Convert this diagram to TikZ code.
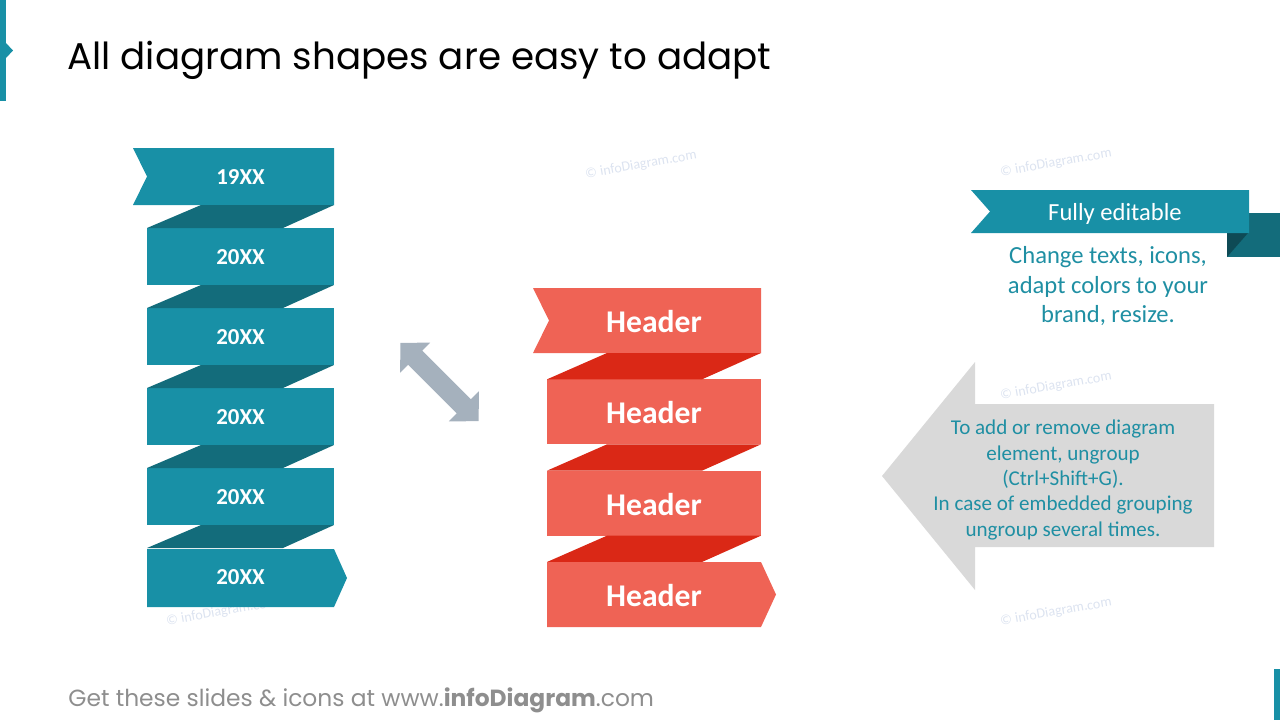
\documentclass[tikz,border=0pt]{standalone}
\usepackage{fontspec}
\setmainfont{Carlito}
\newfontfamily\gothicfont{Poppins}

\definecolor{ribbonteal}{HTML}{1890A6}
\definecolor{tealfold}{HTML}{136C7B}
\definecolor{tealshade}{HTML}{0E4A55}
\definecolor{ribbonred}{HTML}{EF6355}
\definecolor{redfold}{HTML}{DA2816}
\definecolor{arrowgray}{HTML}{A5B1BD}
\definecolor{boxgray}{HTML}{D9D9D9}
\definecolor{noteteal}{HTML}{1F8FA3}
\definecolor{footgray}{HTML}{8E8E8E}
\definecolor{markblue}{HTML}{DCE3F0}

\tikzset{
    yearlbl/.style={text=white, font=\fontsize{13}{15}\selectfont\bfseries},
    headlbl/.style={text=white, font=\fontsize{18}{21}\selectfont\bfseries},
    watermark/.style={text=markblue, rotate=10, font=\fontsize{8}{9}\selectfont},
    notetext/.style={text=noteteal, align=center}
}

\begin{document}
\begin{tikzpicture}[x=0.02cm,y=-0.02cm]
    \useasboundingbox (0,0) rectangle (1280,720);

    % corner marks
    \fill[ribbonteal] (0,0) rectangle (6,101);
    \fill[ribbonteal] (6,43) -- (13,50.5) -- (6,58) -- cycle;
    \fill[ribbonteal] (1274,669) rectangle (1280,720);

    % watermarks
    \foreach \wx/\wy [count=\k] in {641/165, 1056/163, 1056/386, 1056/612, 222/612}
        \node[watermark] (wm\k) at (\wx,\wy) {\textcopyright{} infoDiagram.com};

    \node[anchor=base west, inner sep=0pt, font=\gothicfont\fontsize{21.2}{25}\selectfont] (title) at (67,69)
        {All diagram shapes are easy to adapt};

    % teal ribbon
    \fill[ribbonteal] (133,148) -- (334,148) -- (334,205) -- (133,205) -- (147,176.5) -- cycle;
    \foreach \i in {1,...,4}
        \fill[ribbonteal] (147,148+80*\i) rectangle (334,205+80*\i);
    \fill[ribbonteal] (147,549) -- (334,549) -- (347,578) -- (334,607) -- (147,607) -- cycle;
    \foreach \i in {0,...,4}
        \fill[tealfold] (201,205+80*\i) -- (334,205+80*\i) -- (283,228+80*\i) -- (147,228+80*\i) -- cycle;
    \foreach \lbl [count=\i from 0] in {19XX,20XX,20XX,20XX,20XX,20XX}
        \node[yearlbl] (yr\i) at (240.5,177.5+80*\i) {\lbl};

    % double arrow
    \fill[arrowgray] (400.3,342.8) -- (430.2,342.7) -- (422.3,350.6) -- (470.9,399.2) -- (478.8,391.3)
        -- (478.7,421.2) -- (448.8,421.3) -- (456.7,413.4) -- (408.1,364.8) -- (400.2,372.7) -- cycle;

    % red ribbon
    \fill[ribbonred] (533,288) -- (761,288) -- (761,353) -- (533,353) -- (549,320.5) -- cycle;
    \foreach \i in {1,2}
        \fill[ribbonred] (547,288+91.33*\i) rectangle (761,353+91.33*\i);
    \fill[ribbonred] (547,562) -- (761,562) -- (776,594.5) -- (761,627) -- (547,627) -- cycle;
    \foreach \i in {0,1,2}
        \fill[redfold] (607,353+91.33*\i) -- (761,353+91.33*\i) -- (702,379.33+91.33*\i) -- (547,379.33+91.33*\i) -- cycle;
    \foreach \i in {0,...,3}
        \node[headlbl] (hd\i) at (654,321.5+91.33*\i) {Header};

    % fully editable tag
    \fill[tealfold] (1227,213) rectangle (1280,257);
    \fill[tealshade] (1227,233) -- (1248,233) -- (1227,257) -- cycle;
    \fill[ribbonteal] (971,190) -- (1249,190) -- (1249,233) -- (971,233) -- (990,211.5) -- cycle;
    \node[text=white, font=\fontsize{14}{16}\selectfont] (edit) at (1115,214) {Fully editable};
    \node[notetext, font=\fontsize{14}{16.8}\selectfont] (editnote) at (1108,286.5)
        {Change texts, icons,\\adapt colors to your\\brand, resize.};

    % gray arrow
    \fill[boxgray] (882,476) -- (975,362) -- (975,404) -- (1214,404) -- (1214,547) -- (975,547) -- (975,590) -- cycle;
    \node[notetext, font=\fontsize{12}{14.5}\selectfont] (ungroup) at (1063,480)
        {To add or remove diagram\\element, ungroup\\(Ctrl+Shift+G).\\In case of embedded grouping\\ungroup several times.};

    \node[anchor=base west, inner sep=0pt, text=footgray, font=\gothicfont\fontsize{13.3}{16}\selectfont] (footer) at (68,706)
        {Get these slides \& icons at www.\textbf{infoDiagram}.com};
\end{tikzpicture}
\end{document}
